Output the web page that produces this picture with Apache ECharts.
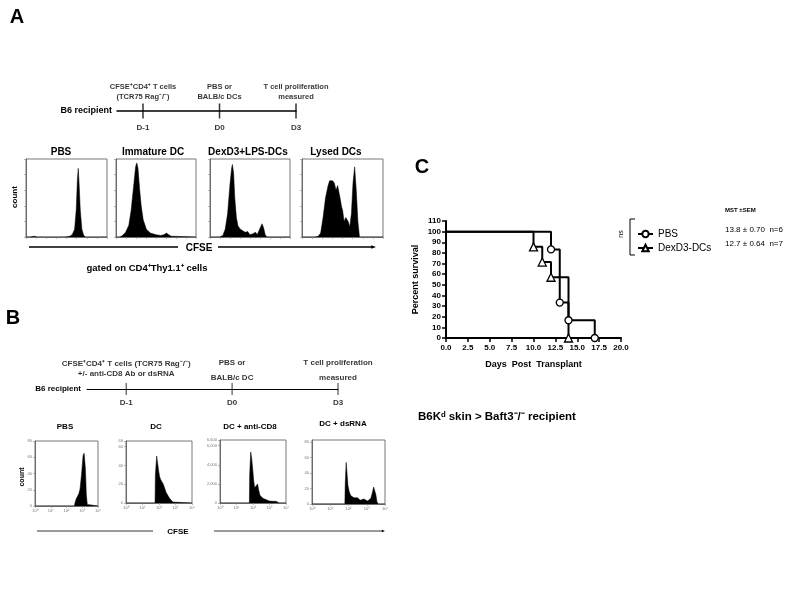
<!DOCTYPE html>
<html>
<head>
<meta charset="utf-8">
<title>Figure</title>
<script src="https://cdn.jsdelivr.net/npm/echarts@6.0.0/dist/echarts.min.js"></script>
<style>
  html, body { margin: 0; padding: 0; background: #fff; }
  #chart { width: 800px; height: 600px; }
</style>
</head>
<body>
<div id="chart"></div>
<script>
// panel C - survival
const survivalNames = ['PBS', 'DexD3-DCs'];
const survivalPBS = [[0, 100], [12, 83.3], [13, 33.3], [14, 16.7], [17, 0]];
const survivalDex = [[0, 100], [10, 85.7], [11, 71.4], [12, 57.1], [14, 0]];
const mstLines = ['13.8 \u00b1 0.70  n=6', '12.7 \u00b1 0.64  n=7'];

// timelines (A and B)
const timelineDays = ['D-1', 'D0', 'D3'];
const timelineSteps = [0, 1, 2];
const timelineA = ['CFSE\u207aCD4\u207a T cells\n(TCR75 Rag\u207b/\u207b)', 'PBS or\nBALB/c DCs', 'T cell proliferation\nmeasured'];
const timelineB = ['CFSE\u207aCD4\u207a T cells (TCR75 Rag\u207b/\u207b)\n+/- anti-CD8 Ab or dsRNA', 'PBS or\nBALB/c DC', 'T cell proliferation\nmeasured'];

// panel A histograms (x: fraction of CFSE range, y: fraction of max count)
const histTitlesA = ['PBS', 'Immature DC', 'DexD3+LPS-DCs', 'Lysed DCs'];
const histA_PBS = [[0,0],[0.05,0],[0.1,0.01],[0.14,0],[0.48,0],[0.54,0.01],[0.57,0.03],[0.6,0.1],[0.62,0.35],[0.635,0.75],[0.645,0.88],[0.655,0.7],[0.67,0.35],[0.69,0.1],[0.71,0.03],[0.73,0],[1,0]];
const histA_Imm = [[0,0],[0.05,0],[0.08,0.02],[0.12,0.06],[0.16,0.15],[0.19,0.35],[0.22,0.65],[0.245,0.9],[0.26,0.95],[0.275,0.88],[0.295,0.62],[0.315,0.4],[0.34,0.22],[0.38,0.1],[0.43,0.05],[0.5,0.03],[0.56,0.02],[0.6,0.03],[0.63,0.05],[0.66,0.03],[0.69,0.01],[0.71,0],[1,0]];
const histA_Dex = [[0,0],[0.12,0],[0.16,0.02],[0.19,0.1],[0.22,0.3],[0.25,0.68],[0.27,0.88],[0.28,0.93],[0.295,0.82],[0.31,0.5],[0.33,0.25],[0.35,0.14],[0.38,0.1],[0.41,0.08],[0.44,0.06],[0.47,0.07],[0.5,0.03],[0.53,0.04],[0.57,0.06],[0.59,0.03],[0.62,0.1],[0.65,0.17],[0.67,0.12],[0.69,0.03],[0.71,0],[1,0]];
const histA_Lys = [[0,0],[0.16,0],[0.2,0.01],[0.23,0.05],[0.26,0.25],[0.29,0.5],[0.32,0.65],[0.34,0.72],[0.36,0.73],[0.38,0.72],[0.4,0.69],[0.42,0.6],[0.44,0.66],[0.46,0.67],[0.47,0.5],[0.49,0.38],[0.5,0.35],[0.52,0.2],[0.54,0.25],[0.55,0.27],[0.57,0.2],[0.59,0.13],[0.61,0.3],[0.63,0.7],[0.65,0.9],[0.67,0.6],[0.69,0.2],[0.71,0],[1,0]];

// panel B histograms (x: log decades 0..4, y: counts)
const histTitlesB = ['PBS', 'DC', 'DC + anti-CD8', 'DC + dsRNA'];
const histB_PBS = [[0,0],[2.5,0],[2.54,4],[2.62,9],[2.7,12],[2.78,15],[2.86,21],[2.95,38],[3.05,62],[3.12,65],[3.2,46],[3.26,14],[3.32,2],[3.35,0],[4,0]];
const histB_DC = [[0,0],[1.76,0],[1.78,30],[1.86,50],[1.92,42],[1.98,34],[2.04,28],[2.1,25],[2.18,23],[2.26,20],[2.34,16],[2.44,11],[2.54,8],[2.64,5],[2.74,3],[2.84,1],[2.92,0],[4,0]];
const histB_CD8 = [[0,0],[1.78,0],[1.8,3000],[1.86,5350],[1.92,4700],[1.98,3600],[2.04,2400],[2.1,1600],[2.16,1500],[2.22,1800],[2.28,2000],[2.34,1400],[2.42,800],[2.5,650],[2.6,500],[2.7,400],[2.8,350],[2.9,250],[3.0,200],[3.1,230],[3.2,180],[3.3,150],[3.4,180],[3.5,120],[3.58,0],[4,0]];
const histB_ds = [[0,0],[1.8,0],[1.82,25],[1.87,54],[1.92,40],[1.97,24],[2.04,16],[2.12,11],[2.2,9],[2.3,8],[2.4,7],[2.5,8],[2.56,8],[2.64,5],[2.74,5],[2.84,6.5],[2.94,4],[3.04,4],[3.14,5],[3.22,7],[3.3,14],[3.38,22],[3.44,20],[3.5,12],[3.56,3],[3.62,0],[4,0]];
const histB_yMax = [80, 66, 6600, 83];
const histB_yStep = [20, 20, 2000, 20];

const FONT = 'Liberation Sans, Arial, sans-serif';

const boxesA = [[26, 159, 81, 78], [116, 159, 80, 78], [210, 159, 80, 78], [302, 159, 81, 78]];
const boxesB = [[35, 441, 63, 65], [126, 441, 66, 62], [220, 440, 66, 63], [312, 440, 73, 64]];
const titleXA = [61, 153, 248, 336];
const titleXB = [65, 156, 250, 343];

const grids = [{ left: 446, top: 221, width: 175, height: 117 }];
const xAxes = [{
  gridIndex: 0, type: 'value', min: 0, max: 20, interval: 2.5,
  name: 'Days  Post  Transplant', nameLocation: 'middle', nameGap: 22,
  nameTextStyle: { fontFamily: FONT, fontWeight: 'bold', fontSize: 9, color: '#000' },
  axisLine: { lineStyle: { color: '#000', width: 2 } },
  axisTick: { length: 4, lineStyle: { color: '#000', width: 1.5 } },
  axisLabel: { fontFamily: FONT, fontWeight: 'bold', fontSize: 8, color: '#000', margin: 6, formatter: v => v.toFixed(1) },
  splitLine: { show: false }
}];
const yAxes = [{
  gridIndex: 0, type: 'value', min: 0, max: 110, interval: 10,
  name: 'Percent survival', nameLocation: 'middle', nameGap: 26,
  nameTextStyle: { fontFamily: FONT, fontWeight: 'bold', fontSize: 9, color: '#000' },
  axisLine: { show: true, lineStyle: { color: '#000', width: 2 } },
  axisTick: { show: true, length: 4, lineStyle: { color: '#000', width: 1.5 } },
  axisLabel: { fontFamily: FONT, fontWeight: 'bold', fontSize: 8, color: '#000', margin: 5 },
  splitLine: { show: false }
}];
const series = [];

function addSurvival(name, data, symbol, size) {
  series.push({
    name: name, type: 'line', step: 'end', xAxisIndex: 0, yAxisIndex: 0,
    data: data.map((p, i) => i === 0 ? { value: p, symbol: 'none' } : p),
    symbol: symbol, symbolSize: size, showSymbol: true, clip: false,
    lineStyle: { color: '#000', width: 2 },
    itemStyle: { color: '#fff', borderColor: '#000', borderWidth: 1.3 },
    z: 3
  });
}
addSurvival(survivalNames[0], survivalPBS, 'circle', 7);
addSurvival(survivalNames[1], survivalDex, 'triangle', 8);

function addHist(box, data, xCfg, yCfg) {
  const gi = grids.length;
  grids.push({ left: box[0], top: box[1], width: box[2], height: box[3], show: true, borderColor: '#555', borderWidth: 0.8 });
  xAxes.push(Object.assign({ gridIndex: gi, type: 'value', splitLine: { show: false },
    axisLine: { lineStyle: { color: '#555', width: 0.8 } } }, xCfg));
  yAxes.push(Object.assign({ gridIndex: gi, type: 'value', splitLine: { show: false },
    axisLine: { show: true, lineStyle: { color: '#555', width: 0.8 } } }, yCfg));
  series.push({
    type: 'line', xAxisIndex: gi, yAxisIndex: gi, data: data, symbol: 'none',
    lineStyle: { color: '#000', width: 0.5 }, areaStyle: { color: '#000', opacity: 1 }
  });
}

[histA_PBS, histA_Imm, histA_Dex, histA_Lys].forEach((d, i) => {
  addHist(boxesA[i], d,
    { min: 0, max: 1, interval: 0.125, axisTick: { length: 2, lineStyle: { color: '#888', width: 0.6 } }, axisLabel: { show: false } },
    { min: 0, max: 1, interval: 0.2, axisTick: { show: true, length: 2, lineStyle: { color: '#888', width: 0.6 } }, axisLabel: { show: false } });
});

const sup = ['\u2070', '\u00b9', '\u00b2', '\u00b3', '\u2074'];
[histB_PBS, histB_DC, histB_CD8, histB_ds].forEach((d, i) => {
  addHist(boxesB[i], d,
    { min: 0, max: 4, interval: 1, axisTick: { length: 2, lineStyle: { color: '#888', width: 0.6 } },
      axisLabel: { fontSize: 4, color: '#777', margin: 3, formatter: v => '10' + sup[v] } },
    { min: 0, max: histB_yMax[i], interval: histB_yStep[i], axisTick: { show: true, length: 2, lineStyle: { color: '#888', width: 0.6 } },
      axisLabel: { fontSize: 4, color: '#777', margin: 3 } });
});

function addTimeline(left, width, lineY, startOffset, texts, cfg) {
  const gi = grids.length;
  grids.push({ left: left, top: lineY - 10, width: width, height: 20 });
  xAxes.push({
    gridIndex: gi, type: 'value', min: -startOffset, max: 2,
    name: 'B6 recipient', nameLocation: 'start', nameGap: cfg.nameGap,
    nameTextStyle: { fontFamily: FONT, fontWeight: 'bold', fontSize: cfg.nameSize, color: '#000' },
    axisLine: { onZero: true, lineStyle: { color: '#000', width: cfg.lineWidth } },
    axisTick: { show: false }, axisLabel: { show: false }, splitLine: { show: false }
  });
  yAxes.push({ gridIndex: gi, type: 'value', min: -1, max: 1, show: false });
  series.push({
    type: 'scatter', xAxisIndex: gi, yAxisIndex: gi,
    data: timelineSteps.map(s => [s, 0]),
    symbol: 'rect', symbolSize: [cfg.lineWidth, cfg.tick],
    itemStyle: { color: '#000' },
    label: { show: true, position: 'bottom', distance: cfg.dayGap, formatter: p => timelineDays[p.dataIndex],
      fontFamily: FONT, fontWeight: 'bold', fontSize: cfg.daySize, color: '#000' }
  });
  series.push({
    type: 'scatter', xAxisIndex: gi, yAxisIndex: gi,
    data: timelineSteps.map((s, i) => ({
      value: [s, 0],
      label: { lineHeight: cfg.lineHeights[i], distance: cfg.textGaps[i] }
    })),
    symbolSize: 1, itemStyle: { color: 'transparent' },
    label: { show: true, position: 'top', formatter: p => texts[p.dataIndex], align: 'center',
      fontFamily: FONT, fontWeight: 'bold', fontSize: cfg.fontSize, color: '#000' }
  });
}
addTimeline(117, 179, 111, 0.34, timelineA,
  { nameGap: 5, nameSize: 9, lineWidth: 1.5, tick: 15, fontSize: 7.5, daySize: 8, dayGap: 5, lineHeights: [10, 10, 10], textGaps: [9, 9, 9] });
addTimeline(87, 251, 389, 0.37, timelineB,
  { nameGap: 6, nameSize: 8, lineWidth: 1, tick: 12, fontSize: 8, daySize: 8, dayGap: 4, lineHeights: [10, 15, 15], textGaps: [10, 3, 3] });

function txt(x, y, text, size, opts) {
  opts = opts || {};
  return {
    type: 'text', x: x, y: y, rotation: opts.rotation || 0,
    style: {
      text: text, fill: '#000',
      font: (opts.bold === false ? '' : 'bold ') + size + 'px ' + FONT,
      align: opts.align || 'center', verticalAlign: 'middle',
      textAlign: opts.align || 'center', textVerticalAlign: 'middle'
    },
    z: 10
  };
}
function arrowLine(x1, x2, y, w, head) {
  return [
    { type: 'line', shape: { x1: x1, y1: y, x2: x2 - head, y2: y }, style: { stroke: '#000', lineWidth: w } },
    { type: 'polygon', shape: { points: [[x2, y], [x2 - head * 1.6, y - head * 0.6], [x2 - head * 1.6, y + head * 0.6]] }, style: { fill: '#000' } }
  ];
}

const graphics = [
  txt(17, 17, 'A', 20),
  txt(13, 318, 'B', 20),
  txt(422, 167, 'C', 20),
  txt(15, 197, 'count', 8, { rotation: Math.PI / 2 }),
  txt(22, 477, 'count', 7, { rotation: Math.PI / 2 }),
  { type: 'line', shape: { x1: 29, y1: 247, x2: 178, y2: 247 }, style: { stroke: '#000', lineWidth: 1.5 } },
  txt(199, 248, 'CFSE', 10),
  ...arrowLine(218, 376, 247, 1.5, 3),
  txt(147, 268, 'gated on CD4\u207aThy1.1\u207a cells', 9.5),
  { type: 'line', shape: { x1: 37, y1: 531, x2: 153, y2: 531 }, style: { stroke: '#000', lineWidth: 0.8 } },
  txt(178, 532, 'CFSE', 8),
  ...arrowLine(214, 385, 531, 0.8, 2),
  txt(418, 417, 'B6K\u1d48 skin > Baft3\u207b/\u207b recipient', 11.5, { align: 'left' }),
  { type: 'polyline', shape: { points: [[635, 219], [630, 219], [630, 255], [635, 255]] }, style: { stroke: '#000', lineWidth: 1, fill: null } },
  txt(621, 234, 'ns', 7, { bold: false, rotation: Math.PI / 2 }),
  txt(725, 210, 'MST \u00b1SEM', 6, { align: 'left' }),
  txt(725, 230, mstLines[0], 8, { align: 'left', bold: false }),
  txt(725, 244, mstLines[1], 8, { align: 'left', bold: false })
];
histTitlesA.forEach((t, i) => graphics.push(txt(titleXA[i], 152, t, 10)));
histTitlesB.forEach((t, i) => graphics.push(txt(titleXB[i], i === 3 ? 424 : 427, t, 8)));

const option = {
  animation: false,
  backgroundColor: '#fff',
  textStyle: { fontFamily: FONT },
  legend: {
    data: survivalNames, orient: 'vertical', left: 632, top: 224,
    itemWidth: 15, itemHeight: 8, itemGap: 4,
    textStyle: { fontFamily: FONT, fontSize: 10, color: '#000' }
  },
  grid: grids,
  xAxis: xAxes,
  yAxis: yAxes,
  series: series,
  graphic: graphics
};

const chart = echarts.init(document.getElementById('chart'));
chart.setOption(option);
window.addEventListener('resize', () => chart.resize());
</script>
</body>
</html>
